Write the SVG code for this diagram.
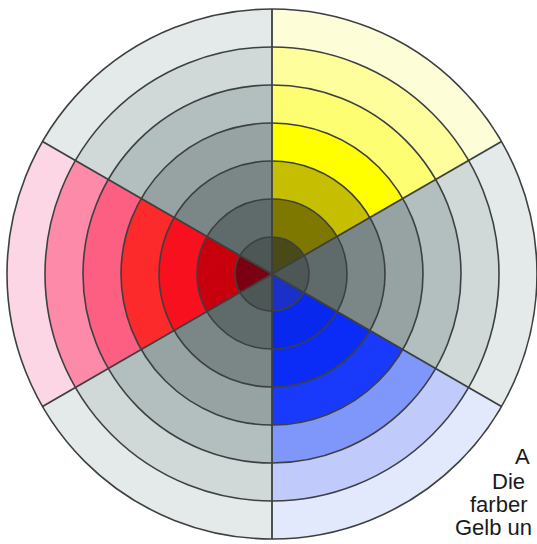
<svg xmlns="http://www.w3.org/2000/svg" width="537" height="544" viewBox="0 0 537 544">
<style>
.r1{r:265px}.r2{r:227px}.r3{r:189px}.r4{r:151px}.r5{r:113px}.r6{r:75px}.r7{r:37px}
.ring{fill:none;stroke:#3c4040;stroke-width:1.6}
.div{stroke:#3c4040;stroke-width:1.8}
.txt{font-family:"Liberation Sans",Arial,sans-serif;font-size:22px;fill:#1a1a1a}
</style>
<defs>
<clipPath id="w0"><path d="M272,274 L272,-46 L549.1,114 Z"/></clipPath>
<clipPath id="w1"><path d="M272,274 L549.1,114 L549.1,434 Z"/></clipPath>
<clipPath id="w2"><path d="M272,274 L549.1,434 L272,594 Z"/></clipPath>
<clipPath id="w3"><path d="M272,274 L272,594 L-5.1,434 Z"/></clipPath>
<clipPath id="w4"><path d="M272,274 L-5.1,434 L-5.1,114 Z"/></clipPath>
<clipPath id="w5"><path d="M272,274 L-5.1,114 L272,-46 Z"/></clipPath>
</defs>
<rect width="537" height="544" fill="#ffffff"/>
<g id="sector-yellow" clip-path="url(#w0)">
<circle cx="272" cy="274" r="265" fill="#fdfdd8"/>
<circle cx="272" cy="274" r="227" fill="#fefe9c"/>
<circle cx="272" cy="274" r="189" fill="#fefe72"/>
<circle cx="272" cy="274" r="151" fill="#ffff00"/>
<circle cx="272" cy="274" r="113" fill="#c6be00"/>
<circle cx="272" cy="274" r="75" fill="#7e7800"/>
<circle cx="272" cy="274" r="37" fill="#4a4a18"/>
</g>
<g id="sector-gray-right" clip-path="url(#w1)">
<circle cx="272" cy="274" r="265" fill="#e4e9ea"/>
<circle cx="272" cy="274" r="227" fill="#d0d9d8"/>
<circle cx="272" cy="274" r="189" fill="#b3bfbe"/>
<circle cx="272" cy="274" r="151" fill="#96a3a2"/>
<circle cx="272" cy="274" r="113" fill="#7b8786"/>
<circle cx="272" cy="274" r="75" fill="#5f6b6a"/>
<circle cx="272" cy="274" r="37" fill="#4d5756"/>
</g>
<g id="sector-blue" clip-path="url(#w2)">
<circle cx="272" cy="274" r="265" fill="#e2e9fc"/>
<circle cx="272" cy="274" r="227" fill="#c0cbfc"/>
<circle cx="272" cy="274" r="189" fill="#7f96fb"/>
<circle cx="272" cy="274" r="151" fill="#1a3afb"/>
<circle cx="272" cy="274" r="113" fill="#0a2cf6"/>
<circle cx="272" cy="274" r="75" fill="#0828ee"/>
<circle cx="272" cy="274" r="37" fill="#1a30c8"/>
</g>
<g id="sector-gray-bottom" clip-path="url(#w3)">
<circle cx="272" cy="274" r="265" fill="#e4e9ea"/>
<circle cx="272" cy="274" r="227" fill="#d0d9d8"/>
<circle cx="272" cy="274" r="189" fill="#b3bfbe"/>
<circle cx="272" cy="274" r="151" fill="#96a3a2"/>
<circle cx="272" cy="274" r="113" fill="#7b8786"/>
<circle cx="272" cy="274" r="75" fill="#5f6b6a"/>
<circle cx="272" cy="274" r="37" fill="#4d5756"/>
</g>
<g id="sector-red" clip-path="url(#w4)">
<circle cx="272" cy="274" r="265" fill="#fdd6e6"/>
<circle cx="272" cy="274" r="227" fill="#fc8aa8"/>
<circle cx="272" cy="274" r="189" fill="#fc5f82"/>
<circle cx="272" cy="274" r="151" fill="#fc2a2a"/>
<circle cx="272" cy="274" r="113" fill="#f8101e"/>
<circle cx="272" cy="274" r="75" fill="#c8000e"/>
<circle cx="272" cy="274" r="37" fill="#7a0012"/>
</g>
<g id="sector-gray-top" clip-path="url(#w5)">
<circle cx="272" cy="274" r="265" fill="#e4e9ea"/>
<circle cx="272" cy="274" r="227" fill="#d0d9d8"/>
<circle cx="272" cy="274" r="189" fill="#b3bfbe"/>
<circle cx="272" cy="274" r="151" fill="#96a3a2"/>
<circle cx="272" cy="274" r="113" fill="#7b8786"/>
<circle cx="272" cy="274" r="75" fill="#5f6b6a"/>
<circle cx="272" cy="274" r="37" fill="#4d5756"/>
</g>
<g id="rings">
<circle class="ring" cx="272" cy="274" r="265"/>
<circle class="ring" cx="272" cy="274" r="227"/>
<circle class="ring" cx="272" cy="274" r="189"/>
<circle class="ring" cx="272" cy="274" r="151"/>
<circle class="ring" cx="272" cy="274" r="113"/>
<circle class="ring" cx="272" cy="274" r="75"/>
<circle class="ring" cx="272" cy="274" r="37"/>
</g>
<g id="dividers">
<line class="div" x1="272" y1="9" x2="272" y2="539"/>
<line class="div" x1="501.5" y1="141.5" x2="42.5" y2="406.5"/>
<line class="div" x1="501.5" y1="406.5" x2="42.5" y2="141.5"/>
</g>
<g id="caption" class="txt">
<text x="515" y="464">A</text>
<text x="492" y="489">Die</text>
<text x="470" y="512">farber</text>
<text x="455" y="535">Gelb un</text>
</g>
</svg>
